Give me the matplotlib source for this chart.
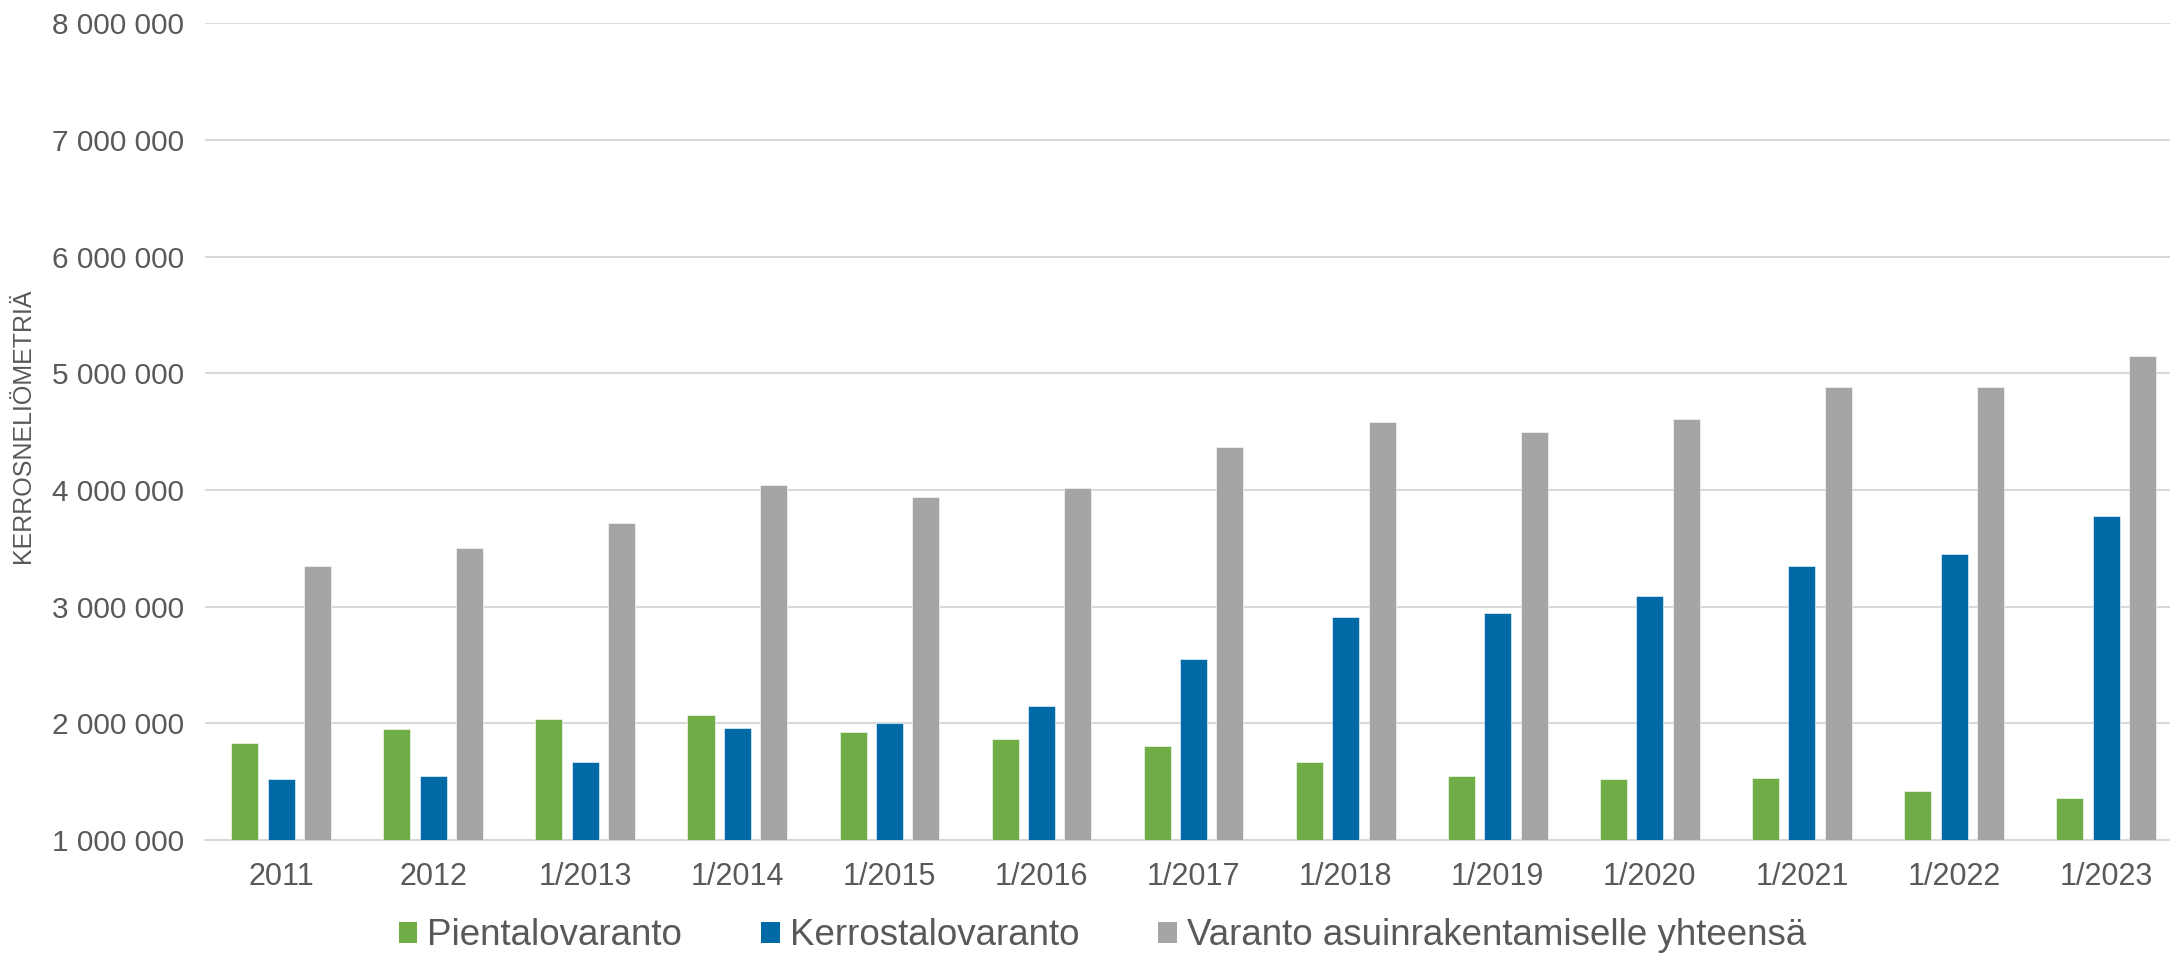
import numpy as np
import matplotlib
matplotlib.use("Agg")
import matplotlib.pyplot as plt
from matplotlib.patches import Patch
from matplotlib.ticker import FuncFormatter, MultipleLocator

plt.rcParams['font.family'] = ['Liberation Sans', 'DejaVu Sans']

# data
categories = ["2011", "2012", "1/2013", "1/2014", "1/2015", "1/2016", "1/2017",
              "1/2018", "1/2019", "1/2020", "1/2021", "1/2022", "1/2023"]
pientalo = [1830000, 1950000, 2040000, 2070000, 1930000, 1870000, 1810000,
            1670000, 1550000, 1520000, 1530000, 1420000, 1360000]
kerrostalo = [1520000, 1550000, 1670000, 1960000, 2005000, 2150000, 2550000,
              2910000, 2950000, 3090000, 3350000, 3450000, 3780000]
yhteensa = [3350000, 3500000, 3720000, 4040000, 3940000, 4020000, 4370000,
            4580000, 4500000, 4610000, 4880000, 4880000, 5150000]
series_names = ["Pientalovaranto", "Kerrostalovaranto",
                "Varanto asuinrakentamiselle yhteensä"]
colors = ["#70AD47", "#006AA7", "#A5A5A5"]
text_color = "#595959"
grid_color = "#D9D9D9"

fig = plt.figure(figsize=(21.7, 9.55), dpi=100)
ax = fig.add_axes([0.0945, 0.1204, 0.9055, 0.855])

x = np.arange(len(categories))
width = 0.178
step = 0.239
for k, (vals, col) in enumerate(zip([pientalo, kerrostalo, yhteensa], colors)):
    ax.bar(x + (k - 1) * step, np.array(vals) - 1e6, bottom=1e6, width=width,
           color=col, zorder=3, edgecolor="white", linewidth=0.4)

ax.set_ylim(1e6, 8e6)
ax.set_xlim(-0.5, 12.42)
ax.yaxis.set_major_locator(MultipleLocator(1e6))
ax.yaxis.set_major_formatter(FuncFormatter(lambda v, p: f"{int(v):,}".replace(",", " ")))
ax.set_xticks(x)
ax.set_xticklabels(categories)

ax.grid(axis="y", color=grid_color, linewidth=1.5, zorder=0)
for s in ["top", "right", "left"]:
    ax.spines[s].set_visible(False)
ax.spines["bottom"].set_color(grid_color)
ax.spines["bottom"].set_linewidth(1.5)
ax.tick_params(axis="both", length=0, colors=text_color)
ax.tick_params(axis="y", labelsize=21.5, pad=15)
ax.tick_params(axis="x", labelsize=22, pad=16)

fig.text(23.5 / 2170, 0.554, "KERROSNELIÖMETRIÄ", rotation=90, ha="center",
         va="center", fontsize=18, color=text_color)

handles = [Patch(facecolor=c, edgecolor="none") for c in colors]
fig.legend(handles, series_names, loc="center", bbox_to_anchor=(0.508, 0.02),
           ncol=3, frameon=False, fontsize=26.5, labelcolor=text_color,
           handlelength=0.5, handleheight=0.5, handletextpad=0.27,
           columnspacing=2.15)

fig.savefig("out.png", dpi=100)
